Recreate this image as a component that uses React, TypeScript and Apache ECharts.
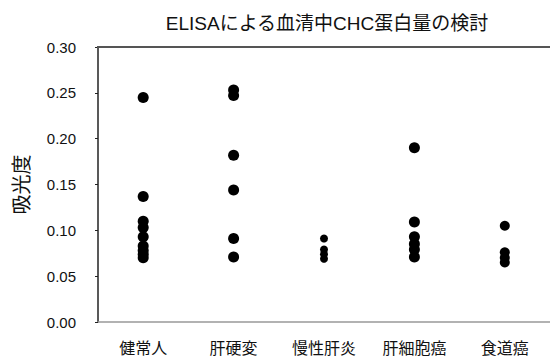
import React, { useEffect, useRef } from "react";
import * as echarts from "echarts";

const title = "ELISAによる血清中CHC蛋白量の検討";
const yAxisName = "吸光度";
const categories = ["健常人", "肝硬変", "慢性肝炎", "肝細胞癌", "食道癌"];
const yTicks = [0, 0.05, 0.1, 0.15, 0.2, 0.25, 0.3];
const yMax = 0.3;

const healthy = [0.245, 0.137, 0.11, 0.103, 0.093, 0.083, 0.078, 0.074, 0.07];
const cirrhosis = [0.253, 0.247, 0.182, 0.144, 0.091, 0.071];
const chronicHepatitis = [0.091, 0.079, 0.074, 0.069];
const hcc = [0.19, 0.109, 0.093, 0.085, 0.079, 0.071];
const esophageal = [0.105, 0.076, 0.07, 0.065];

const groups = [healthy, cirrhosis, chronicHepatitis, hcc, esophageal];
const dotSizes = [11, 11, 8, 11, 10];

const FONT = "'Liberation Sans', 'Noto Sans CJK JP', sans-serif";

export default function App() {
  const ref = useRef<HTMLDivElement>(null);
  useEffect(() => {
    document.body.style.margin = "0";
    if (!ref.current) return;
    const chart = echarts.init(ref.current, null, { renderer: "svg" });
    chart.setOption({
      animation: false,
      backgroundColor: "#fff",
      title: {
        text: title,
        left: 322,
        top: 9,
        textAlign: "center",
        textStyle: { fontFamily: FONT, fontSize: 19, fontWeight: "normal", color: "#111" },
      },
      grid: { left: 98, width: 458, top: 47, height: 275 },
      xAxis: {
        type: "category",
        data: categories,
        boundaryGap: true,
        axisLine: { onZero: false, lineStyle: { color: "#999", width: 1.5 } },
        axisTick: { show: false },
        axisLabel: { fontFamily: FONT, fontSize: 16, color: "#111", margin: 18 },
      },
      yAxis: {
        type: "value",
        min: 0,
        max: yMax,
        interval: 0.05,
        name: yAxisName,
        nameLocation: "middle",
        nameRotate: 90,
        nameGap: 66,
        nameTextStyle: { fontFamily: FONT, fontSize: 20, color: "#111" },
        axisLine: { show: true, lineStyle: { color: "#222", width: 1.5 } },
        axisTick: { show: true, length: 3, lineStyle: { color: "#222" } },
        splitLine: { show: false },
        axisLabel: {
          fontFamily: FONT,
          fontSize: 15,
          color: "#111",
          margin: 22,
          formatter: (v: number) => (yTicks.some((t) => Math.abs(t - v) < 1e-9) ? v.toFixed(2) : ""),
        },
      },
      series: groups.map((vals, i) => ({
        type: "scatter",
        name: categories[i],
        symbolSize: dotSizes[i],
        itemStyle: { color: "#000", opacity: 1 },
        data: vals.map((v) => [categories[i], v]),
      })),
    });
    // Top frame line of the plot area, positioned from the grid's own coordinate system
    const topLeft = chart.convertToPixel({ gridIndex: 0 }, [categories[0], yMax]) as number[];
    const bottom = chart.convertToPixel({ gridIndex: 0 }, [categories[0], 0]) as number[];
    if (topLeft && bottom) {
      const yTop = topLeft[1];
      chart.setOption({
        graphic: [
          {
            type: "rect",
            silent: true,
            z: 100,
            shape: { x: 97, y: yTop - 1, width: 460, height: 2 },
            style: { fill: "#555" },
          },
        ],
      });
    }
    return () => chart.dispose();
  }, []);
  return <div ref={ref} style={{ width: 550, height: 358 }} />;
}
